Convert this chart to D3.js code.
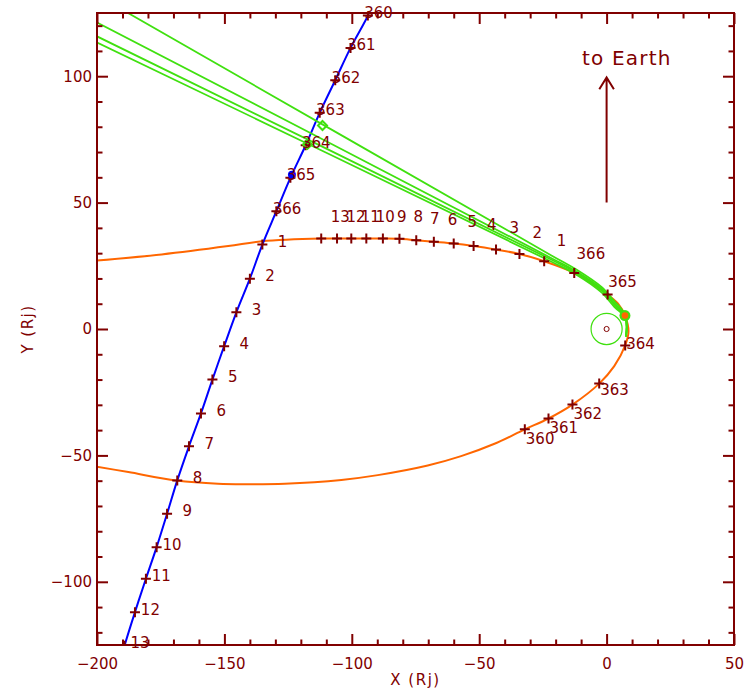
<!DOCTYPE html>
<html><head><meta charset="utf-8">
<script src="https://cdn.jsdelivr.net/npm/d3@7"></script>
<style>
body{margin:0;background:#fff}
svg{display:block}
text{font-family:"DejaVu Sans",sans-serif}
</style>
</head><body>
<svg id="chart" width="747" height="695"></svg>
<script>
// ---------------- data ----------------
const xTickValues = [-200, -150, -100, -50, 0, 50];
const yTickValues = [-100, -50, 0, 50, 100];
const xTitle = "X (Rj)";
const yTitle = "Y (Rj)";

// orbit (orange) traced path, in Rj
const orbitPath = [
  [-201,-54.3],[-187.7,-56.6],[-168.8,-59.9],[-152.5,-61.2],[-142.0,-61.4],[-126.3,-61.2],
  [-104.1,-59.7],[-89.8,-57.8],[-70.2,-54.0],[-57.1,-50.3],[-44.0,-45.4],
  [-32.1,-39.7],[-22.8,-35.4],[-13.4,-29.9],[-2.9,-21.6],[3.0,-14.7],[7.3,-6.5],[8.6,-0.9],
  [7.2,5.3],[4.5,10.0],[0.4,13.6],[-6.4,18.4],[-12.7,22.2],[-24.5,26.8],[-34.2,29.7],
  [-43.4,31.4],[-52.2,32.8],[-60.0,33.8],[-67.8,34.5],[-74.7,35.1],[-81.3,35.7],[-87.8,35.8],
  [-94.3,35.8],[-100.2,35.8],[-105.8,35.8],[-112.0,35.8],[-135.4,34.7],[-148.5,32.8],
  [-174.6,29.5],[-201,27.0]
];
// orbit day marks
const orbitDays  = ["360","361","362","363","364","365","366","1","2","3","4","5","6","7","8","9","10","11","12","13"];
const orbitMarkX = [-32.1,-22.8,-13.4,-2.9,7.3,0.4,-12.7,-24.5,-34.2,-43.4,-52.2,-60.0,-67.8,-74.7,-81.3,-87.8,-94.3,-100.2,-105.8,-112.0];
const orbitMarkY = [-39.7,-35.4,-29.9,-21.6,-6.5,13.6,22.2,26.8,29.7,31.4,32.8,33.8,34.5,35.1,35.7,35.8,35.8,35.8,35.8,35.8];
const perijove = [7.2, 5.3];

// second trajectory (blue) with day marks
const trackDays = ["360","361","362","363","364","365","366","1","2","3","4","5","6","7","8","9","10","11","12","13"];
const trackX = [-93.7,-100.5,-106.5,-112.6,-118.1,-124.1,-129.6,-135.1,-140.0,-145.3,-150.1,-154.7,-159.2,-163.9,-168.5,-172.5,-176.6,-180.8,-185.1,-189.2];
const trackY = [124.0,111.2,98.4,85.5,72.7,59.8,46.6,33.4,19.9,6.6,-6.8,-20.0,-33.4,-46.4,-59.9,-73.1,-86.3,-98.8,-112.0,-125.3];
const trackStart = [-92.9, 126.5];
const trackEnd = [-189.8, -127.5];
const trackDot = [-123.5, 61.0];

// green lines
const greenLine1 = [[-188.0,125.1],[-22,29.3],[-12,23.6],[-2,16.6],[3,11.0],[6.2,7.4],[7.3,5.1],[7.9,1.0],[7.6,-3.0]];
const greenLine2 = [[-200.5,121.5],[-22,28.2],[-12,22.8],[-2,15.9],[3,10.2],[6.0,7.1],[7.3,5.1],[7.9,1.0],[7.6,-3.0]];
const greenLine3 = [[-200.5,116.0],[-22,27.6],[-12,22.3],[-2,15.3],[3,9.6],[5.8,6.8],[7.3,5.1],[7.9,1.0],[7.6,-3.0]];
const greenLine4 = [[-200.5,113.6],[-22,26.8],[-12,21.6],[-2,14.5],[3,8.8],[5.6,6.5],[7.3,5.1],[7.9,1.0],[7.6,-3.0]];
const greenMarks = [[-111.5,80.5],[-117.4,73.0]];
const greenRingRadius = 6.1;
const jupiterRadius = 1.0;

// "to Earth" arrow
const arrowX = 0, arrowY0 = 50, arrowY1 = 99.5;
const arrowText = "to Earth";
const arrowTextPos = [7.9, 104.4];

// ---------------- layout ----------------
const L = 97, R = 734, T = 13, B = 645;
const DARK = "#800000", ORANGE = "#ff6600", BLUE = "#0000ff", GREEN = "#40e010";
const FS = 15;

const x = d3.scaleLinear().domain([-200, 50]).range([L, R]);
const y = d3.scaleLinear().domain([-125, 125]).range([B, T]);

const svg = d3.select("#chart");
svg.append("defs").append("clipPath").attr("id","clip")
  .append("rect").attr("x",L).attr("y",T).attr("width",R-L).attr("height",B-T);

const plot = svg.append("g").attr("clip-path","url(#clip)");
const line = d3.line().x(d=>x(d[0])).y(d=>y(d[1])).curve(d3.curveCatmullRom.alpha(0.5));

// orbit
plot.append("path").attr("d", line(orbitPath)).attr("fill","none")
  .attr("stroke",ORANGE).attr("stroke-width",2);

// blue track
const trackPts = [trackStart].concat(trackX.map((v,i)=>[v,trackY[i]])).concat([trackEnd]);
plot.append("path").attr("d", line(trackPts)).attr("fill","none")
  .attr("stroke",BLUE).attr("stroke-width",2);

// green lines
[greenLine1, greenLine2, greenLine3, greenLine4].forEach(gl=>{
  plot.append("path").attr("d", line(gl)).attr("fill","none")
    .attr("stroke",GREEN).attr("stroke-width",1.8);
});
// green ring and Jupiter
plot.append("circle").attr("cx",x(0)).attr("cy",y(0))
  .attr("r", x(greenRingRadius)-x(0)).attr("fill","none").attr("stroke",GREEN).attr("stroke-width",1.2);
plot.append("circle").attr("cx",x(0)).attr("cy",y(0))
  .attr("r", x(jupiterRadius)-x(0)).attr("fill","none").attr("stroke",DARK).attr("stroke-width",1);

// crosses
function cross(g, px, py){
  g.append("path").attr("d",`M${px-5},${py}H${px+5}M${px},${py-5}V${py+5}`)
    .attr("stroke",DARK).attr("stroke-width",2).attr("fill","none");
}
const om = orbitDays.map((d,i)=>({d, px:x(orbitMarkX[i]), py:y(orbitMarkY[i])}));
om.forEach(m=>cross(plot, m.px, m.py));
const tm = trackDays.map((d,i)=>({d, px:x(trackX[i]), py:y(trackY[i])}));
tm.forEach(m=>cross(plot, m.px, m.py));

// green diamond marks
greenMarks.forEach(p=>{
  const px=x(p[0]), py=y(p[1]);
  plot.append("path").attr("d",`M${px},${py-4.5}L${px+4.5},${py}L${px},${py+4.5}L${px-4.5},${py}Z`)
    .attr("fill","none").attr("stroke",GREEN).attr("stroke-width",2);
});
// blue dot
plot.append("circle").attr("cx",x(trackDot[0])).attr("cy",y(trackDot[1])).attr("r",4).attr("fill",BLUE);
// perijove
plot.append("circle").attr("cx",x(perijove[0])).attr("cy",y(perijove[1])).attr("r",5.5).attr("fill",GREEN);
plot.append("circle").attr("cx",x(perijove[0])).attr("cy",y(perijove[1])).attr("r",3.3).attr("fill",ORANGE);

// labels
const labels = svg.append("g").attr("fill",DARK).attr("font-size",FS);
const half = FS*0.36;
om.forEach((m,i)=>{
  const a = om[Math.max(0,i-1)], b = om[Math.min(om.length-1,i+1)];
  let tx=b.px-a.px, ty=b.py-a.py; const len=Math.hypot(tx,ty); tx/=len; ty/=len;
  const nx=-ty, ny=tx;
  if (ny > 0) {
    labels.append("text").attr("x", m.px+1).attr("y", m.py + 14*ny - 3 + half)
      .attr("text-anchor","start").text(m.d);
  } else {
    labels.append("text").attr("x", m.px + 19 - 5*nx).attr("y", m.py + 22*ny + half)
      .attr("text-anchor","middle").text(m.d);
  }
});
tm.forEach(m=>{
  labels.append("text").attr("x", m.px+25).attr("y", m.py - 3 + half)
    .attr("text-anchor","end").text(m.d);
});

// arrow
const ax = x(arrowX), ay0 = y(arrowY0), ay1 = y(arrowY1);
svg.append("path").attr("d",`M${ax},${ay0}V${ay1}M${ax-7.3},${ay1+11.7}L${ax},${ay1}L${ax+7.3},${ay1+11.7}`)
  .attr("fill","none").attr("stroke",DARK).attr("stroke-width",2);
svg.append("text").attr("x",x(arrowTextPos[0])).attr("y",y(arrowTextPos[1]))
  .attr("text-anchor","middle").attr("font-size",20).attr("letter-spacing",1.2)
  .attr("fill",DARK).text(arrowText);

// axes
const axes = svg.append("g");
const minorX = d3.range(-200, 51, 10).filter(v=>v%50!==0);
const minorY = d3.range(-120, 121, 10).filter(v=>v%50!==0);
function styleAxis(sel){
  sel.select(".domain").remove();
  sel.selectAll("line").attr("stroke",DARK).attr("stroke-width",2);
  sel.selectAll("text").attr("fill",DARK).attr("font-size",FS).attr("font-family","DejaVu Sans, sans-serif");
}
const fmt = d3.format("d");
axes.append("g").attr("transform",`translate(0,${B})`)
  .call(d3.axisBottom(x).tickValues(xTickValues).tickSize(-11).tickPadding(13).tickFormat(v=>fmt(v).replace("-","\u2212"))).call(styleAxis);
axes.append("g").attr("transform",`translate(0,${B})`)
  .call(d3.axisBottom(x).tickValues(minorX).tickSize(-5.5).tickFormat("")).call(styleAxis);
axes.append("g").attr("transform",`translate(0,${T})`)
  .call(d3.axisTop(x).tickValues(xTickValues).tickSize(-11).tickFormat("")).call(styleAxis);
axes.append("g").attr("transform",`translate(0,${T})`)
  .call(d3.axisTop(x).tickValues(minorX).tickSize(-5.5).tickFormat("")).call(styleAxis);
axes.append("g").attr("transform",`translate(${L},0)`)
  .call(d3.axisLeft(y).tickValues(yTickValues).tickSize(-11).tickPadding(5).tickFormat(v=>fmt(v).replace("-","\u2212"))).call(styleAxis);
axes.append("g").attr("transform",`translate(${L},0)`)
  .call(d3.axisLeft(y).tickValues(minorY).tickSize(-5.5).tickFormat("")).call(styleAxis);
axes.append("g").attr("transform",`translate(${R},0)`)
  .call(d3.axisRight(y).tickValues(yTickValues).tickSize(-11).tickFormat("")).call(styleAxis);
axes.append("g").attr("transform",`translate(${R},0)`)
  .call(d3.axisRight(y).tickValues(minorY).tickSize(-5.5).tickFormat("")).call(styleAxis);
axes.append("rect").attr("x",L).attr("y",T).attr("width",R-L).attr("height",B-T)
  .attr("fill","none").attr("stroke",DARK).attr("stroke-width",2);

// titles
svg.append("text").attr("x",(L+R)/2).attr("y",685).attr("text-anchor","middle")
  .attr("font-size",FS).attr("fill",DARK).attr("letter-spacing",1.5).text(xTitle);
svg.append("text").attr("transform",`translate(33,${(T+B)/2}) rotate(-90)`).attr("text-anchor","middle")
  .attr("font-size",FS).attr("fill",DARK).attr("letter-spacing",1.5).text(yTitle);
</script>
</body></html>
